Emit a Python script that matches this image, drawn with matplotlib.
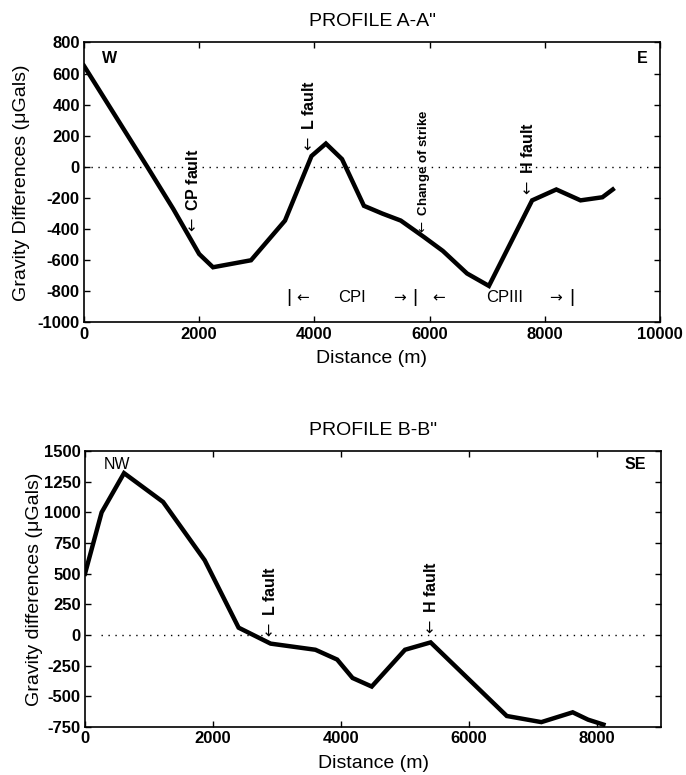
import matplotlib
matplotlib.use('Agg')
import matplotlib.pyplot as plt
import numpy as np

plt.rcParams['font.family'] = ['Liberation Sans', 'DejaVu Sans']
plt.rcParams['axes.unicode_minus'] = False
plt.rcParams['mathtext.fontset'] = 'dejavusans'

# profile A-A"
dist_a = [0, 1100, 1550, 2000, 2240, 2900, 3490, 3950, 4200, 4480, 4860, 5180,
          5500, 5900, 6230, 6650, 7030, 7780, 8200, 8620, 9000, 9180]
grav_a = [650, 0, -270, -560, -645, -600, -345, 70, 150, 50, -250, -300,
          -345, -450, -540, -685, -765, -215, -145, -215, -195, -145]

# profile B-B"
dist_b = [0, 260, 610, 1220, 1870, 2400, 2900, 3600, 3940, 4180, 4480, 5000,
          5400, 6590, 7130, 7620, 7860, 8100]
grav_b = [500, 1000, 1320, 1085, 610, 60, -70, -120, -200, -350, -420, -120,
          -60, -660, -710, -630, -690, -730]

# fault markers: (label, x, y of arrow tip, size)
marks_a = [('CP fault', 1900, -440, 11.5),
           ('L fault', 3900, 80, 11.5),
           ('Change of strike', 5910, -440, 9.5),
           ('H fault', 7700, -200, 11.5)]
marks_b = [('L fault', 2890, -40, 11.5),
           ('H fault', 5400, -20, 11.5)]

# CPI / CPIII range row
range_x = [3560, 3800, 4660, 5470, 5740, 6150, 7300, 8190, 8470]
range_txt = ['|', '\u2190', 'CPI', '\u2192', '|', '\u2190', 'CPIII', '\u2192', '|']

zero_a = [0, 10000]
zero_b = [250, 8750]

fig = plt.figure(figsize=(6.86, 7.75), dpi=100)
ax1 = fig.add_axes([0.1224, 0.5839, 0.8397, 0.3613])
ax2 = fig.add_axes([0.1239, 0.0619, 0.8397, 0.3561])


def style(ax):
    ax.tick_params(direction='in', top=True, right=True, length=4, width=1,
                   labelsize=12, pad=3)
    for lab in ax.get_xticklabels() + ax.get_yticklabels():
        lab.set_weight('bold')
    for s in ax.spines.values():
        s.set_linewidth(1.2)


def fault(ax, lab, x, y, fs):
    ax.text(x, y, r'$\leftarrow$ ' + lab, rotation=90, ha='center', va='bottom',
            fontsize=fs, fontweight='bold')


# ---- top panel ----
ax1.plot(zero_a, [0, 0], color='k', lw=1.0, ls=(0, (1, 4)))
ax1.plot(dist_a, grav_a, color='k', lw=3.2, solid_joinstyle='miter')
ax1.set_xlim(0, 10000)
ax1.set_ylim(-1000, 800)
ax1.set_xticks(np.arange(0, 10001, 2000))
ax1.set_yticks(np.arange(-1000, 801, 200))
style(ax1)
ax1.text(0.5, 1.076, 'PROFILE A-A"', fontsize=14, ha='center', va='center',
         transform=ax1.transAxes)
ax1.set_xlabel('Distance (m)', fontsize=14)
ax1.xaxis.set_label_coords(0.5, -0.10)
ax1.set_ylabel('Gravity Differences (\u03bcGals)', fontsize=14)
ax1.yaxis.set_label_coords(-0.094, 0.5)
ax1.text(450, 700, 'W', fontsize=11.5, fontweight='bold', ha='center', va='center')
ax1.text(9700, 700, 'E', fontsize=11.5, fontweight='bold', ha='center', va='center')
for lab, x, y, fs in marks_a:
    fault(ax1, lab, x, y, fs)
for x, t in zip(range_x, range_txt):
    if t.startswith('CP'):
        ax1.text(x, -840, t, fontsize=12, ha='center', va='center')
    elif t == '|':
        ax1.text(x, -840, t, fontsize=14, ha='center', va='center')
    else:
        ax1.text(x, -840, t, fontsize=11, ha='center', va='center',
                 family='DejaVu Sans')

# ---- bottom panel ----
ax2.plot(zero_b, [0, 0], color='k', lw=1.0, ls=(0, (1, 4)))
ax2.plot(dist_b, grav_b, color='k', lw=3.2, solid_joinstyle='miter')
ax2.set_xlim(0, 9000)
ax2.set_ylim(-750, 1500)
ax2.set_xticks(np.arange(0, 8001, 2000))
ax2.set_yticks(np.arange(-750, 1501, 250))
style(ax2)
ax2.text(0.5, 1.076, 'PROFILE B-B"', fontsize=14, ha='center', va='center',
         transform=ax2.transAxes)
ax2.set_xlabel('Distance (m)', fontsize=14)
ax2.xaxis.set_label_coords(0.5, -0.10)
ax2.set_ylabel('Gravity differences (\u03bcGals)', fontsize=14)
ax2.yaxis.set_label_coords(-0.073, 0.5)
ax2.text(500, 1390, 'NW', fontsize=11.5, ha='center', va='center')
ax2.text(8600, 1390, 'SE', fontsize=11.5, fontweight='bold', ha='center', va='center')
for lab, x, y, fs in marks_b:
    fault(ax2, lab, x, y, fs)

fig.savefig('out.png', dpi=100)
